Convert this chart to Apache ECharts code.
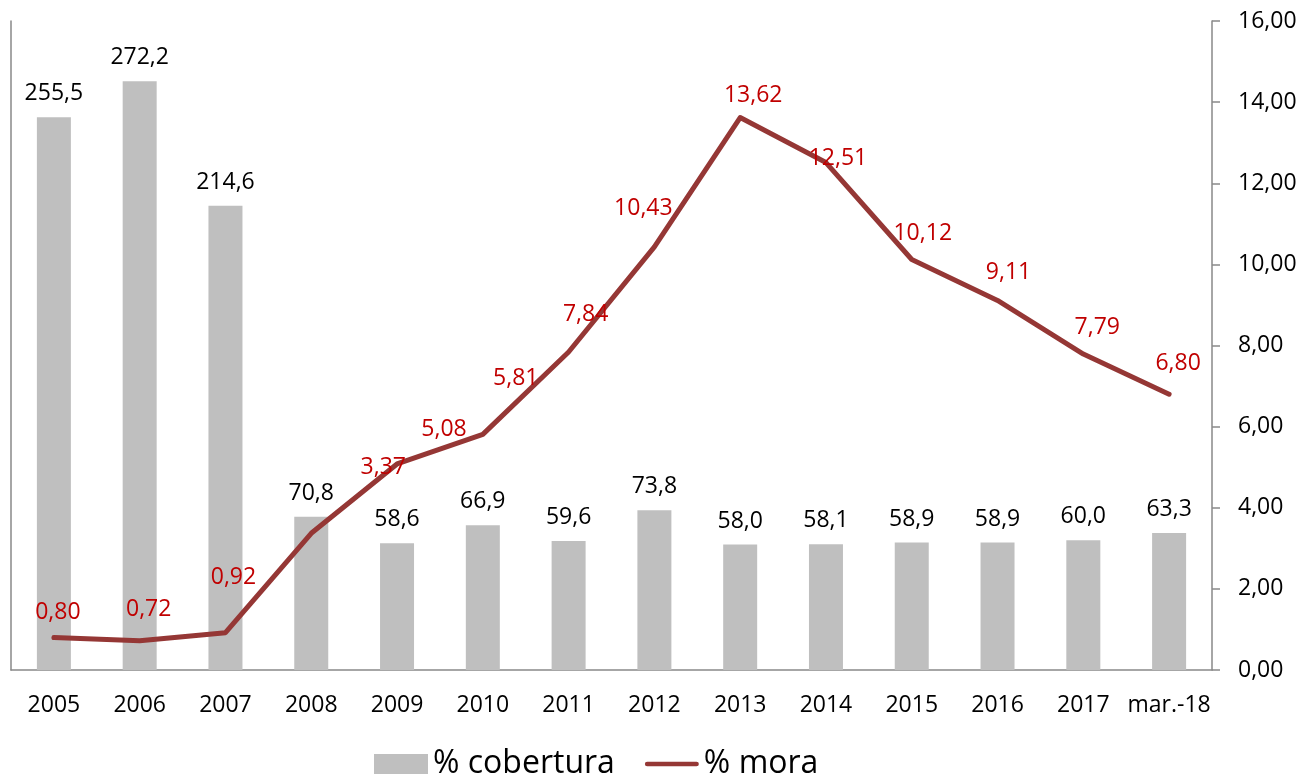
<!DOCTYPE html>
<html>
<head>
<meta charset="utf-8">
<script src="https://cdn.jsdelivr.net/npm/echarts@6/dist/echarts.min.js"></script>
<style>
html,body{margin:0;padding:0;background:#fff;}
#chart{width:1303px;height:779px;}
</style>
</head>
<body>
<div id="chart"></div>
<script>
const categories = ['2005','2006','2007','2008','2009','2010','2011','2012','2013','2014','2015','2016','2017','mar.-18'];
const cobertura = [255.5, 272.2, 214.6, 70.8, 58.6, 66.9, 59.6, 73.8, 58.0, 58.1, 58.9, 58.9, 60.0, 63.3];
const mora = [0.80, 0.72, 0.92, 3.37, 5.08, 5.81, 7.84, 10.43, 13.62, 12.51, 10.12, 9.11, 7.79, 6.80];
const rightTicks = [0, 2, 4, 6, 8, 10, 12, 14, 16];

const FONT = 'Open Sans';
const comma = (v, d) => Number(v).toFixed(d).replace('.', ',');

// label placement (style only), mimicking the reference's label spots
const moraLabelShift = [[4,-25],[9,-31],[8,-55],[72,-66],[47,-34],[33,-56],[17,-38],[-11,-38],[13,-22],[12,-4],[11,-26],[11,-28],[14,-27],[9,-31]];

const chart = echarts.init(document.getElementById('chart'), null, {renderer: 'canvas'});
const axisGrey = '#898989';
chart.setOption({
  animation: false,
  textStyle: {fontFamily: FONT},
  grid: {left: 11, right: 91, top: 21, bottom: 109, containLabel: false},
  legend: {
    left: 374, top: 748, padding: 0,
    itemWidth: 54, itemHeight: 20, itemGap: 30,
    textStyle: {fontFamily: FONT, fontSize: 32, color: '#000'},
    data: [
      {name: '% cobertura', icon: 'rect'},
      {name: '% mora', icon: 'path://M2,0 L55,0 A2.5,2.5 0 0 1 55,5 L2,5 A2.5,2.5 0 0 1 2,0 Z', itemStyle: {color: '#953735'}}
    ]
  },
  xAxis: {
    type: 'category', data: categories,
    axisLine: {show: true, lineStyle: {color: axisGrey, width: 1.5}},
    axisTick: {show: false},
    axisLabel: {fontFamily: FONT, fontSize: 23, color: '#000', margin: 24, interval: 0}
  },
  yAxis: [
    {
      type: 'value', min: 0, max: 300, position: 'left',
      axisLine: {show: true, lineStyle: {color: axisGrey, width: 1.5}},
      axisTick: {show: false}, axisLabel: {show: false}, splitLine: {show: false}
    },
    {
      type: 'value', min: 0, max: 16, interval: 2, position: 'right',
      axisLine: {show: true, lineStyle: {color: axisGrey, width: 1.5}},
      axisTick: {show: true, inside: false, length: 8, lineStyle: {color: axisGrey, width: 1.5}},
      axisLabel: {fontFamily: FONT, fontSize: 23, color: '#000', margin: 26,
        formatter: v => comma(v, 2)},
      splitLine: {show: false}
    }
  ],
  series: [
    {
      name: '% cobertura', type: 'bar', yAxisIndex: 0,
      data: cobertura, barWidth: 34,
      itemStyle: {color: '#BFBFBF'},
      label: {show: true, position: 'top', distance: 12, fontFamily: FONT, fontSize: 23, color: '#000',
        formatter: p => comma(p.value, 1)}
    },
    {
      name: '% mora', type: 'line', yAxisIndex: 1,
      data: mora.map((v, i) => ({value: v, label: {offset: moraLabelShift[i]}})),
      symbol: 'circle', symbolSize: 2, showSymbol: true,
      lineStyle: {color: '#953735', width: 5, cap: 'round', join: 'round'},
      itemStyle: {color: '#953735'},
      label: {show: true, position: 'inside', fontFamily: FONT, fontSize: 23, color: '#C00000',
        formatter: p => comma(p.value, 2)},
      z: 3
    }
  ]
});
</script>
</body>
</html>
